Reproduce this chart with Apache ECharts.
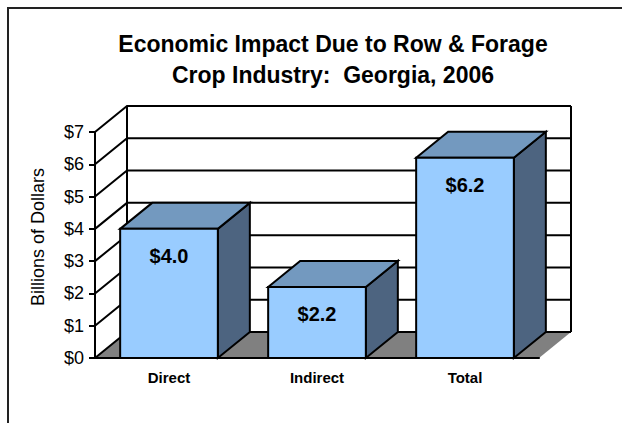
<!DOCTYPE html>
<html>
<head>
<meta charset="utf-8">
<script src="https://cdn.jsdelivr.net/npm/echarts@6/dist/echarts.min.js"></script>
<style>
  html, body { margin: 0; padding: 0; background: #fff; }
  #chart { width: 622px; height: 423px; }
</style>
</head>
<body>
<div id="chart"></div>
<script>
// data
const categories = ["Direct", "Indirect", "Total"];
const impactValues = [4.0, 2.2, 6.2];
const yTicks = [0, 1, 2, 3, 4, 5, 6, 7];

// 3d look
const DX = 32;
const DY = 26;
const FRONT = "#99ccff";
const TOP = "#7399bf";
const SIDE = "#4d6480";
const FLOOR = "#808080";
const LINE = "#000";

let myChart = echarts.init(document.getElementById("chart"), null, { renderer: "svg" });

function renderWall(params, api) {
  let cs = params.coordSys;
  let v = api.value(0);
  let y = api.coord([0, v])[1];
  let left = cs.x;
  let right = cs.x + cs.width;
  let children = [];
  if (v === yTicks[0]) {
    // floor
    children.push({
      type: "polygon",
      shape: { points: [[left, y], [right, y], [right + DX, y - DY], [left + DX, y - DY]] },
      style: { fill: FLOOR, stroke: null }
    });
  }
  if (v === yTicks[yTicks.length - 1]) {
    children.push({
      type: "polyline",
      shape: { points: [[left + DX, y - DY], [left + DX, cs.y + cs.height - DY]] },
      style: { stroke: LINE, lineWidth: 2, fill: null }
    });
    children.push({
      type: "polyline",
      shape: { points: [[right + DX, y - DY], [right + DX, cs.y + cs.height - DY]] },
      style: { stroke: LINE, lineWidth: 2, fill: null }
    });
  }
  children.push({
    type: "polyline",
    shape: { points: [[left, y], [left + DX, y - DY], [right + DX, y - DY]] },
    style: { stroke: LINE, lineWidth: 2, fill: null }
  });
  return { type: "group", children: children };
}

function renderBar(params, api) {
  let i = params.dataIndex;
  let v = api.value(1);
  let top = api.coord([i, v]);
  let base = api.coord([i, 0]);
  let w = api.size([1, 0])[0] * 0.66;
  let x0 = top[0] - w / 2;
  let x1 = top[0] + w / 2;
  let yt = top[1];
  let yb = base[1];
  let edge = { stroke: LINE, lineWidth: 2, lineJoin: "miter" };
  return {
    type: "group",
    children: [
      {
        type: "polygon",
        shape: { points: [[x1, yt], [x1 + DX, yt - DY], [x1 + DX, yb - DY], [x1, yb]] },
        style: Object.assign({ fill: SIDE }, edge)
      },
      {
        type: "polygon",
        shape: { points: [[x0, yt], [x0 + DX, yt - DY], [x1 + DX, yt - DY], [x1, yt]] },
        style: Object.assign({ fill: TOP }, edge)
      },
      {
        type: "rect",
        shape: { x: x0, y: yt, width: w, height: yb - yt },
        style: Object.assign({ fill: FRONT }, edge)
      },
      {
        type: "text",
        x: top[0],
        y: yt + 27,
        style: {
          text: "$" + v.toFixed(1),
          fill: "#000",
          font: "bold 20px Arial, 'Liberation Sans', sans-serif",
          align: "center",
          verticalAlign: "middle"
        }
      }
    ]
  };
}

myChart.setOption({
  animation: false,
  backgroundColor: "#fff",
  textStyle: { fontFamily: "Arial, 'Liberation Sans', sans-serif" },
  title: {
    text: "Economic Impact Due to Row & Forage\nCrop Industry:  Georgia, 2006",
    left: 333,
    top: 28,
    padding: 0,
    textAlign: "center",
    textStyle: {
      fontSize: 23,
      fontWeight: "bold",
      lineHeight: 31,
      color: "#000"
    }
  },
  graphic: [
    {
      type: "polyline",
      shape: { points: [[8, 423], [8, 8], [622, 8]] },
      style: { stroke: "#222", lineWidth: 2, fill: null }
    }
  ],
  grid: {
    left: 95,
    right: 83,
    top: 132,
    bottom: 65
  },
  xAxis: {
    type: "category",
    data: categories,
    axisLine: { lineStyle: { color: LINE, width: 2 } },
    axisTick: { length: 6, lineStyle: { color: LINE, width: 2 } },
    axisLabel: {
      margin: 12,
      fontSize: 15,
      fontWeight: "bold",
      color: "#000"
    },
    z: 10
  },
  yAxis: {
    type: "value",
    min: 0,
    max: 7,
    interval: 1,
    name: "Billions of Dollars",
    nameLocation: "middle",
    nameRotate: 90,
    nameGap: 48,
    nameTextStyle: { fontSize: 18, color: "#000", padding: [0, 0, 0, 16] },
    axisLine: { show: true, lineStyle: { color: LINE, width: 2 } },
    axisTick: { show: true, length: 6, lineStyle: { color: LINE, width: 2 } },
    axisLabel: {
      margin: 11,
      fontSize: 18,
      color: "#000",
      formatter: function (v) { return "$" + v; }
    },
    splitLine: { show: false },
    z: 10
  },
  series: [
    {
      name: "walls",
      type: "custom",
      renderItem: renderWall,
      data: yTicks.map(function (t) { return [t]; }),
      encode: { y: 0 },
      silent: true,
      z: 1
    },
    {
      name: "impact",
      type: "custom",
      renderItem: renderBar,
      data: impactValues.map(function (v, i) { return [i, v]; }),
      encode: { x: 0, y: 1 },
      z: 5
    }
  ]
});
</script>
</body>
</html>
